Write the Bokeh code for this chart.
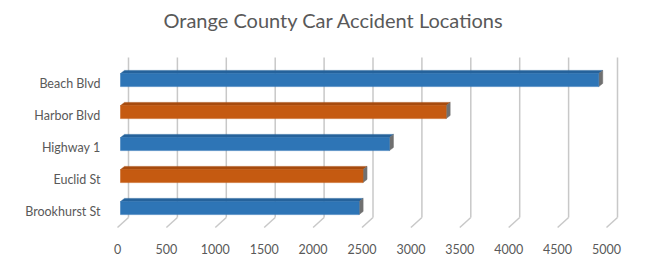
from bokeh.plotting import figure
from bokeh.models import Range1d, FixedTicker, ColumnDataSource
from bokeh.embed import file_html
from bokeh.resources import INLINE

# ---- data ----
categories = ["Beach Blvd", "Harbor Blvd", "Highway 1", "Euclid St", "Brookhurst St"]
values = [4890, 3330, 2750, 2480, 2440]
bar_colors = ["#2E75B6", "#C55A11", "#2E75B6", "#C55A11", "#2E75B6"]
top_colors = ["#25629B", "#A74B0E", "#25629B", "#A74B0E", "#25629B"]
x_ticks = [0, 500, 1000, 1500, 2000, 2500, 3000, 3500, 4000, 4500, 5000]

# ---- geometry (pixels) ----
W, H = 666, 264
F_LEFT, F_RIGHT, F_TOP, F_BOTTOM = 116, 630, 36, 232
X0_PX = 117.0          # pixel of value 0 on the front floor edge
SX = 0.0978            # pixels per unit
Y0_PX = 207.6          # pixel of category index 0 (bottom bar front centre)
SY = 32.0              # pixels per category step

def dx(px):
    return px / SX

def dy(px):
    return px / SY

x_start = (F_LEFT - X0_PX) / SX
x_end = (F_RIGHT - X0_PX) / SX
y_start = (Y0_PX - F_BOTTOM) / SY
y_end = (Y0_PX - F_TOP) / SY

p = figure(width=W, height=H, output_backend="svg", toolbar_location=None,
           x_range=Range1d(x_start, x_end), y_range=Range1d(y_start, y_end),
           min_border_left=F_LEFT, min_border_right=W - F_RIGHT,
           min_border_top=F_TOP, min_border_bottom=H - F_BOTTOM)
p.outline_line_color = None
p.grid.visible = False
p.background_fill_color = "white"
p.border_fill_color = "white"

p.title.text = "Orange County Car Accident Locations"
p.title.align = "left"
p.title.offset = 163 - F_LEFT
p.title.text_font = "Lato"
p.title.text_font_size = "20px"
p.title.text_font_style = "normal"
p.title.text_color = "#595959"

# ---- 3D walls: back gridlines and floor diagonals ----
depth_x = dx(11)
floor_front = dy(Y0_PX - 227)
floor_back = dy(Y0_PX - 217)
wall_top = dy(Y0_PX - 57)
gx_back = [t + depth_x for t in x_ticks]
p.segment(x0=gx_back, y0=[floor_back] * len(x_ticks), x1=gx_back, y1=[wall_top] * len(x_ticks),
          line_color="#c8c8c8", line_width=1.5)
p.segment(x0=x_ticks, y0=[floor_front] * len(x_ticks), x1=gx_back, y1=[floor_back] * len(x_ticks),
          line_color="#c8c8c8", line_width=1.5)

# ---- bars ----
n = len(categories)
ks = [n - 1 - i for i in range(n)]
bar_off = dx(3)
half_h = dy(6.5)
ddx, ddy = dx(4), dy(3.2)

lefts = [bar_off] * n
rights = [bar_off + v for v in values]
tops = [k + half_h for k in ks]
bottoms = [k - half_h for k in ks]

# top faces
top_xs = [[l, r, r + ddx, l + ddx] for l, r in zip(lefts, rights)]
top_ys = [[t, t, t + ddy, t + ddy] for t in tops]
p.patches(xs=top_xs, ys=top_ys, fill_color=top_colors, line_color=top_colors, line_width=0.5)
# side faces
side_xs = [[r, r + ddx, r + ddx, r] for r in rights]
side_ys = [[t, t + ddy, b + ddy, b] for t, b in zip(tops, bottoms)]
p.patches(xs=side_xs, ys=side_ys, fill_color="#707070", line_color="#707070", line_width=0.5)
# front faces
src = ColumnDataSource(dict(left=lefts, right=rights, top=tops, bottom=bottoms, color=bar_colors))
p.quad(left="left", right="right", top="top", bottom="bottom", fill_color="color",
       line_color="color", line_width=0.5, source=src)

# ---- axes ----
p.xaxis.ticker = FixedTicker(ticks=x_ticks)
p.xaxis.axis_line_color = None
p.xaxis.major_tick_line_color = None
p.xaxis.minor_tick_line_color = None
p.xaxis.major_label_standoff = 5
p.xaxis.major_label_text_font = "Lato"
p.xaxis.major_label_text_font_size = "12.5px"
p.xaxis.major_label_text_color = "#595959"

label_shift = dy(3)
label_pos = [k - label_shift for k in ks]
p.yaxis.ticker = FixedTicker(ticks=label_pos)
p.yaxis.major_label_overrides = {k: c for k, c in zip(label_pos, categories)}
p.yaxis.axis_line_color = None
p.yaxis.major_tick_line_color = None
p.yaxis.minor_tick_line_color = None
p.yaxis.major_label_standoff = 10
p.yaxis.major_label_text_font = "Lato"
p.yaxis.major_label_text_font_size = "12.5px"
p.yaxis.major_label_text_color = "#595959"

open("out.html", "w").write(file_html(p, INLINE))
